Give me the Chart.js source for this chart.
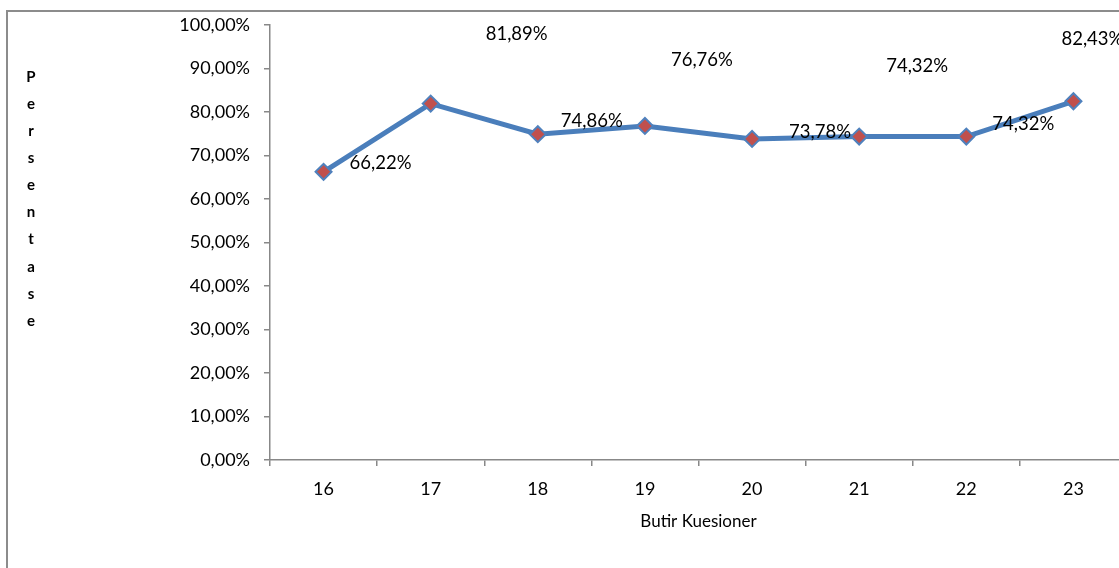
<!DOCTYPE html>
<html>
<head>
<meta charset="utf-8">
<title>Persentase Butir Kuesioner</title>
<script src="https://cdn.jsdelivr.net/npm/chart.js@4.4.1/dist/chart.umd.min.js"></script>
<style>
  html, body { margin: 0; padding: 0; background: #fff; overflow: hidden; }
  #wrap { position: relative; width: 1119px; height: 568px; overflow: hidden; }
  #frame { position: absolute; left: 6px; top: 10px; width: 1200px; height: 600px;
           border: 2px solid #8c8c8c; box-sizing: border-box; pointer-events: none; }
  canvas { position: absolute; left: 0; top: 0; }
</style>
</head>
<body>
<div id="wrap">
  <canvas id="chart" width="1140" height="568"></canvas>
  <div id="frame"></div>
</div>
<script>
// Butir kuesioner (item numbers) and the percentage score of each item
const categories = ['16', '17', '18', '19', '20', '21', '22', '23'];
const persentase = [66.22, 81.89, 74.86, 76.76, 73.78, 74.32, 74.32, 82.43];
const yAxisTitle = 'Persentase';
const xAxisTitle = 'Butir Kuesioner';

const fmtPct = v => v.toFixed(2).replace('.', ',') + '%';
const FONT = 'Lato, "Open Sans", sans-serif';

// Value labels, each placed with its own offset from the point
const valueLabels = {
  id: 'valueLabels',
  afterDatasetsDraw(chart, args, opts) {
    const ctx = chart.ctx;
    const meta = chart.getDatasetMeta(0);
    const data = chart.data.datasets[0].data;
    ctx.save();
    ctx.font = '18.5px ' + FONT;
    ctx.fillStyle = '#000';
    ctx.textAlign = 'center';
    ctx.textBaseline = 'middle';
    meta.data.forEach((pt, i) => {
      const off = opts.offsets[i] || [0, -15];
      ctx.fillText(fmtPct(data[i]), pt.x + off[0], pt.y + off[1]);
    });
    ctx.restore();
  }
};

// Vertical y-axis title written as stacked letters
const stackedTitle = {
  id: 'stackedTitle',
  afterDraw(chart, args, opts) {
    const ctx = chart.ctx;
    ctx.save();
    ctx.font = 'bold 15px ' + FONT;
    ctx.fillStyle = '#000';
    ctx.textAlign = 'center';
    ctx.textBaseline = 'middle';
    opts.text.split('').forEach((ch, i) => {
      ctx.fillText(ch, opts.x, opts.y + i * opts.step);
    });
    ctx.restore();
  }
};

new Chart(document.getElementById('chart'), {
  type: 'line',
  data: {
    labels: categories,
    datasets: [{
      data: persentase,
      borderColor: '#4A7EBB',
      borderWidth: 5,
      pointStyle: 'rectRot',
      pointRadius: 8,
      pointHoverRadius: 8,
      pointBackgroundColor: '#C0504D',
      pointBorderColor: '#4F81BD',
      pointBorderWidth: 2,
      tension: 0,
      fill: false
    }]
  },
  options: {
    responsive: false,
    animation: false,
    events: [],
    layout: { padding: { left: 0, top: 24, right: 13, bottom: 28 } },
    plugins: {
      legend: { display: false },
      tooltip: { enabled: false },
      valueLabels: {
        offsets: [[57, -9], [86, -70], [54, -13], [57, -66], [68, -7], [58, -71], [57, -13], [19, -62]]
      },
      stackedTitle: { text: yAxisTitle, x: 31, y: 77, step: 27.1 }
    },
    scales: {
      x: {
        offset: true,
        grid: { offset: true, drawOnChartArea: false, tickLength: 6, color: '#888', lineWidth: 1.5 },
        border: { color: '#888', width: 1.5 },
        ticks: { color: '#000', font: { family: FONT, size: 18 }, padding: 12, maxRotation: 0 },
        title: { display: true, text: xAxisTitle, color: '#000',
                 font: { family: FONT, size: 17 }, padding: { top: 0, bottom: 8 } },
        afterFit(scale) { scale.height = 80; }
      },
      y: {
        min: 0,
        max: 100,
        grid: { drawOnChartArea: false, tickLength: 6, color: '#888', lineWidth: 1.5 },
        border: { color: '#888', width: 1.5 },
        ticks: { stepSize: 10, color: '#000', font: { family: FONT, size: 18 }, padding: 14,
                 callback: v => fmtPct(v) },
        afterFit(scale) { scale.width = 270; }
      }
    }
  },
  plugins: [valueLabels, stackedTitle]
});
</script>
</body>
</html>
